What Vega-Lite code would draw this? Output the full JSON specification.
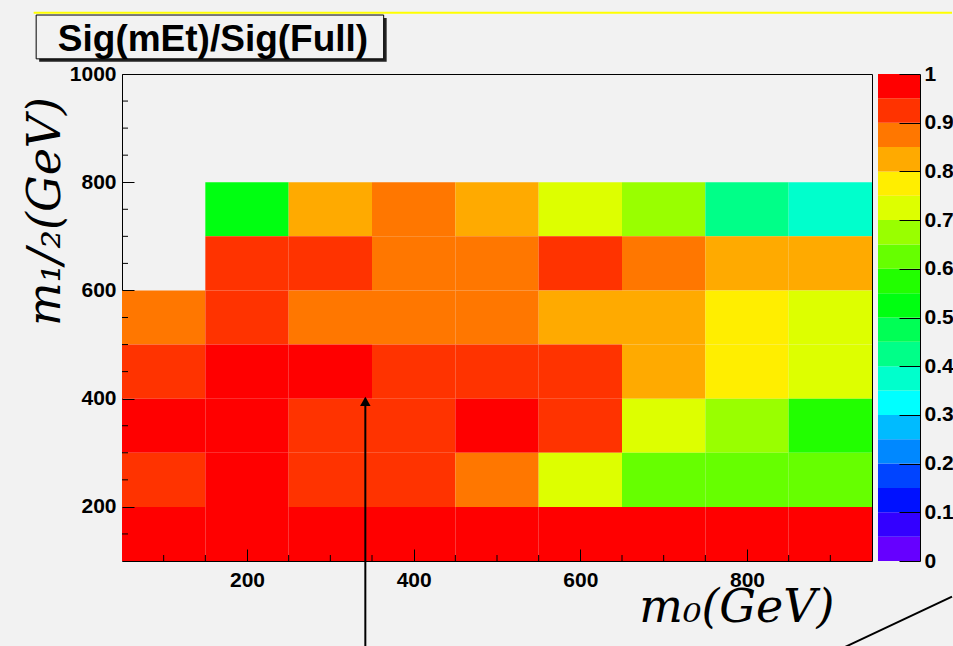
{
  "$schema": "https://vega.github.io/schema/vega-lite/v6.json",
  "autosize": {"type": "pad"},
  "padding": {"left": 21, "top": 11, "right": 0, "bottom": 0},
  "background": "#F2F2F2",
  "spacing": 6,
  "bounds": "flush",
  "config": {
    "view": {"stroke": "black", "strokeWidth": 1, "fill": "#F2F2F2"},
    "axis": {
      "domain": false,
      "grid": false,
      "labelFont": "Liberation Sans",
      "labelFontSize": 21,
      "labelFontWeight": "bold",
      "labelColor": "black",
      "tickColor": "black",
      "tickWidth": 1,
      "zindex": 1
    }
  },
  "datasets": {
    "cells": [
      {"m0_lo": 150, "m0_hi": 250, "m12_lo": 700, "m12_hi": 800, "ratio": 0.52},
      {"m0_lo": 250, "m0_hi": 350, "m12_lo": 700, "m12_hi": 800, "ratio": 0.82},
      {"m0_lo": 350, "m0_hi": 450, "m12_lo": 700, "m12_hi": 800, "ratio": 0.87},
      {"m0_lo": 450, "m0_hi": 550, "m12_lo": 700, "m12_hi": 800, "ratio": 0.82},
      {"m0_lo": 550, "m0_hi": 650, "m12_lo": 700, "m12_hi": 800, "ratio": 0.72},
      {"m0_lo": 650, "m0_hi": 750, "m12_lo": 700, "m12_hi": 800, "ratio": 0.67},
      {"m0_lo": 750, "m0_hi": 850, "m12_lo": 700, "m12_hi": 800, "ratio": 0.42},
      {"m0_lo": 850, "m0_hi": 950, "m12_lo": 700, "m12_hi": 800, "ratio": 0.37},
      {"m0_lo": 150, "m0_hi": 250, "m12_lo": 600, "m12_hi": 700, "ratio": 0.92},
      {"m0_lo": 250, "m0_hi": 350, "m12_lo": 600, "m12_hi": 700, "ratio": 0.92},
      {"m0_lo": 350, "m0_hi": 450, "m12_lo": 600, "m12_hi": 700, "ratio": 0.87},
      {"m0_lo": 450, "m0_hi": 550, "m12_lo": 600, "m12_hi": 700, "ratio": 0.87},
      {"m0_lo": 550, "m0_hi": 650, "m12_lo": 600, "m12_hi": 700, "ratio": 0.92},
      {"m0_lo": 650, "m0_hi": 750, "m12_lo": 600, "m12_hi": 700, "ratio": 0.87},
      {"m0_lo": 750, "m0_hi": 850, "m12_lo": 600, "m12_hi": 700, "ratio": 0.82},
      {"m0_lo": 850, "m0_hi": 950, "m12_lo": 600, "m12_hi": 700, "ratio": 0.82},
      {"m0_lo": 50, "m0_hi": 150, "m12_lo": 500, "m12_hi": 600, "ratio": 0.87},
      {"m0_lo": 150, "m0_hi": 250, "m12_lo": 500, "m12_hi": 600, "ratio": 0.92},
      {"m0_lo": 250, "m0_hi": 350, "m12_lo": 500, "m12_hi": 600, "ratio": 0.87},
      {"m0_lo": 350, "m0_hi": 450, "m12_lo": 500, "m12_hi": 600, "ratio": 0.87},
      {"m0_lo": 450, "m0_hi": 550, "m12_lo": 500, "m12_hi": 600, "ratio": 0.87},
      {"m0_lo": 550, "m0_hi": 650, "m12_lo": 500, "m12_hi": 600, "ratio": 0.82},
      {"m0_lo": 650, "m0_hi": 750, "m12_lo": 500, "m12_hi": 600, "ratio": 0.82},
      {"m0_lo": 750, "m0_hi": 850, "m12_lo": 500, "m12_hi": 600, "ratio": 0.77},
      {"m0_lo": 850, "m0_hi": 950, "m12_lo": 500, "m12_hi": 600, "ratio": 0.72},
      {"m0_lo": 50, "m0_hi": 150, "m12_lo": 400, "m12_hi": 500, "ratio": 0.92},
      {"m0_lo": 150, "m0_hi": 250, "m12_lo": 400, "m12_hi": 500, "ratio": 0.97},
      {"m0_lo": 250, "m0_hi": 350, "m12_lo": 400, "m12_hi": 500, "ratio": 0.97},
      {"m0_lo": 350, "m0_hi": 450, "m12_lo": 400, "m12_hi": 500, "ratio": 0.92},
      {"m0_lo": 450, "m0_hi": 550, "m12_lo": 400, "m12_hi": 500, "ratio": 0.92},
      {"m0_lo": 550, "m0_hi": 650, "m12_lo": 400, "m12_hi": 500, "ratio": 0.92},
      {"m0_lo": 650, "m0_hi": 750, "m12_lo": 400, "m12_hi": 500, "ratio": 0.82},
      {"m0_lo": 750, "m0_hi": 850, "m12_lo": 400, "m12_hi": 500, "ratio": 0.77},
      {"m0_lo": 850, "m0_hi": 950, "m12_lo": 400, "m12_hi": 500, "ratio": 0.72},
      {"m0_lo": 50, "m0_hi": 150, "m12_lo": 300, "m12_hi": 400, "ratio": 0.97},
      {"m0_lo": 150, "m0_hi": 250, "m12_lo": 300, "m12_hi": 400, "ratio": 0.97},
      {"m0_lo": 250, "m0_hi": 350, "m12_lo": 300, "m12_hi": 400, "ratio": 0.92},
      {"m0_lo": 350, "m0_hi": 450, "m12_lo": 300, "m12_hi": 400, "ratio": 0.92},
      {"m0_lo": 450, "m0_hi": 550, "m12_lo": 300, "m12_hi": 400, "ratio": 0.97},
      {"m0_lo": 550, "m0_hi": 650, "m12_lo": 300, "m12_hi": 400, "ratio": 0.92},
      {"m0_lo": 650, "m0_hi": 750, "m12_lo": 300, "m12_hi": 400, "ratio": 0.72},
      {"m0_lo": 750, "m0_hi": 850, "m12_lo": 300, "m12_hi": 400, "ratio": 0.67},
      {"m0_lo": 850, "m0_hi": 950, "m12_lo": 300, "m12_hi": 400, "ratio": 0.57},
      {"m0_lo": 50, "m0_hi": 150, "m12_lo": 200, "m12_hi": 300, "ratio": 0.92},
      {"m0_lo": 150, "m0_hi": 250, "m12_lo": 200, "m12_hi": 300, "ratio": 0.97},
      {"m0_lo": 250, "m0_hi": 350, "m12_lo": 200, "m12_hi": 300, "ratio": 0.92},
      {"m0_lo": 350, "m0_hi": 450, "m12_lo": 200, "m12_hi": 300, "ratio": 0.92},
      {"m0_lo": 450, "m0_hi": 550, "m12_lo": 200, "m12_hi": 300, "ratio": 0.87},
      {"m0_lo": 550, "m0_hi": 650, "m12_lo": 200, "m12_hi": 300, "ratio": 0.72},
      {"m0_lo": 650, "m0_hi": 750, "m12_lo": 200, "m12_hi": 300, "ratio": 0.62},
      {"m0_lo": 750, "m0_hi": 850, "m12_lo": 200, "m12_hi": 300, "ratio": 0.62},
      {"m0_lo": 850, "m0_hi": 950, "m12_lo": 200, "m12_hi": 300, "ratio": 0.62},
      {"m0_lo": 50, "m0_hi": 150, "m12_lo": 100, "m12_hi": 200, "ratio": 0.97},
      {"m0_lo": 150, "m0_hi": 250, "m12_lo": 100, "m12_hi": 200, "ratio": 0.97},
      {"m0_lo": 250, "m0_hi": 350, "m12_lo": 100, "m12_hi": 200, "ratio": 0.97},
      {"m0_lo": 350, "m0_hi": 450, "m12_lo": 100, "m12_hi": 200, "ratio": 0.97},
      {"m0_lo": 450, "m0_hi": 550, "m12_lo": 100, "m12_hi": 200, "ratio": 0.97},
      {"m0_lo": 550, "m0_hi": 650, "m12_lo": 100, "m12_hi": 200, "ratio": 0.97},
      {"m0_lo": 650, "m0_hi": 750, "m12_lo": 100, "m12_hi": 200, "ratio": 0.97},
      {"m0_lo": 750, "m0_hi": 850, "m12_lo": 100, "m12_hi": 200, "ratio": 0.97},
      {"m0_lo": 850, "m0_hi": 950, "m12_lo": 100, "m12_hi": 200, "ratio": 0.97}
    ],
    "xminor": [
      {"m0": 100}, {"m0": 150}, {"m0": 250}, {"m0": 300}, {"m0": 350}, {"m0": 450}, {"m0": 500},
      {"m0": 550}, {"m0": 650}, {"m0": 700}, {"m0": 750}, {"m0": 850}, {"m0": 900}
    ],
    "yminor": [
      {"m12": 150}, {"m12": 250}, {"m12": 300}, {"m12": 350}, {"m12": 450}, {"m12": 500}, {"m12": 550},
      {"m12": 650}, {"m12": 700}, {"m12": 750}, {"m12": 850}, {"m12": 900}, {"m12": 950}
    ],
    "bands": [
      {"lo": 0.00, "hi": 0.05, "mid": 0.025},
      {"lo": 0.05, "hi": 0.10, "mid": 0.075},
      {"lo": 0.10, "hi": 0.15, "mid": 0.125},
      {"lo": 0.15, "hi": 0.20, "mid": 0.175},
      {"lo": 0.20, "hi": 0.25, "mid": 0.225},
      {"lo": 0.25, "hi": 0.30, "mid": 0.275},
      {"lo": 0.30, "hi": 0.35, "mid": 0.325},
      {"lo": 0.35, "hi": 0.40, "mid": 0.375},
      {"lo": 0.40, "hi": 0.45, "mid": 0.425},
      {"lo": 0.45, "hi": 0.50, "mid": 0.475},
      {"lo": 0.50, "hi": 0.55, "mid": 0.525},
      {"lo": 0.55, "hi": 0.60, "mid": 0.575},
      {"lo": 0.60, "hi": 0.65, "mid": 0.625},
      {"lo": 0.65, "hi": 0.70, "mid": 0.675},
      {"lo": 0.70, "hi": 0.75, "mid": 0.725},
      {"lo": 0.75, "hi": 0.80, "mid": 0.775},
      {"lo": 0.80, "hi": 0.85, "mid": 0.825},
      {"lo": 0.85, "hi": 0.90, "mid": 0.875},
      {"lo": 0.90, "hi": 0.95, "mid": 0.925},
      {"lo": 0.95, "hi": 1.00, "mid": 0.975}
    ],
    "titlebox": [
      {"x_a": -53, "x_b": 364, "y_a": 1028, "y_b": 1109}
    ],
    "topline": [
      {"x_a": -56, "x_b": 1046, "y": 1113}
    ],
    "arrow": [
      {"m0": 342, "m12_from": -60, "m12_to": 400}
    ],
    "arrowhead": [
      {"m0": 342, "m12": 395}
    ],
    "line": [
      {"m0_a": 916, "m12_a": -60, "m0_b": 1046, "m12_b": 34}
    ]
  },
  "hconcat": [
    {
      "width": 750,
      "height": 487,
      "layer": [
        {
          "data": {"name": "titlebox"},
          "mark": {"type": "rect", "fill": "#222222", "xOffset": 3, "x2Offset": 3, "yOffset": 3, "y2Offset": 3},
          "encoding": {
            "x": {"field": "x_a", "type": "quantitative"},
            "x2": {"field": "x_b"},
            "y": {"field": "y_a", "type": "quantitative"},
            "y2": {"field": "y_b"}
          }
        },
        {
          "data": {"name": "titlebox"},
          "mark": {"type": "rect", "fill": "#F2F2F2", "stroke": "black", "strokeWidth": 1},
          "encoding": {
            "x": {"field": "x_a", "type": "quantitative"},
            "x2": {"field": "x_b"},
            "y": {"field": "y_a", "type": "quantitative"},
            "y2": {"field": "y_b"}
          }
        },
        {
          "data": {"name": "titlebox"},
          "mark": {"type": "text", "text": "Sig(mEt)/Sig(Full)", "align": "left", "baseline": "alphabetic", "font": "Liberation Sans", "fontSize": 37, "fontWeight": "bold", "color": "black"},
          "encoding": {
            "x": {"datum": -27, "type": "quantitative"},
            "y": {"datum": 1042, "type": "quantitative"}
          }
        },
        {
          "data": {"name": "topline"},
          "mark": {"type": "rule", "color": "#FFFF00", "strokeWidth": 2},
          "encoding": {
            "x": {"field": "x_a", "type": "quantitative"},
            "x2": {"field": "x_b"},
            "y": {"field": "y", "type": "quantitative"}
          }
        },
        {
          "data": {"name": "cells"},
          "mark": {"type": "rect", "stroke": null},
          "encoding": {
            "x": {
              "field": "m0_lo",
              "type": "quantitative",
              "scale": {"domain": [50, 950], "nice": false, "zero": false},
              "axis": {
                "title": "m₀(GeV)",
                "values": [200, 400, 600, 800],
                "format": "d",
                "tickSize": -12,
                "labelPadding": 20,
                "zindex": 1,
                "titleFont": "DejaVu Serif",
                "titleFontStyle": "italic",
                "titleFontWeight": "normal",
                "titleFontSize": 46,
                "titleColor": "black",
                "titleAnchor": "end",
                "titleAlign": "right",
                "titleX": 712,
                "titleY": 60,
                "titleBaseline": "alphabetic"
              }
            },
            "x2": {"field": "m0_hi"},
            "y": {
              "field": "m12_lo",
              "type": "quantitative",
              "scale": {"domain": [100, 1000], "nice": false, "zero": false},
              "axis": {
                "title": "m₁/₂(GeV)",
                "values": [200, 400, 600, 800, 1000],
                "format": "d",
                "tickSize": -12,
                "labelPadding": 18,
                "zindex": 1,
                "titleFont": "DejaVu Serif",
                "titleFontStyle": "italic",
                "titleFontWeight": "normal",
                "titleFontSize": 46,
                "titleColor": "black",
                "titleAngle": -90,
                "titleX": -63,
                "titleY": 137,
                "titleAlign": "center",
                "titleBaseline": "alphabetic"
              }
            },
            "y2": {"field": "m12_hi"},
            "color": {
              "field": "ratio",
              "type": "quantitative",
              "scale": {
                "type": "quantize",
                "domain": [0, 1],
                "nice": false,
                "zero": false,
                "range": ["#6600FF", "#3300FF", "#0011FF", "#0044FF", "#0088FF", "#00BBFF", "#00FFFF", "#00FFCC", "#00FF88", "#00FF55", "#00FF11", "#22FF00", "#66FF00", "#99FF00", "#DDFF00", "#FFEE00", "#FFAA00", "#FF7700", "#FF3300", "#FF0000"]
              },
              "legend": null
            }
          }
        },
        {
          "data": {"name": "xminor"},
          "mark": {"type": "tick", "orient": "vertical", "size": 6, "thickness": 1, "color": "black", "opacity": 1, "yOffset": -3},
          "encoding": {
            "x": {"field": "m0", "type": "quantitative"},
            "y": {"datum": 100, "type": "quantitative"}
          }
        },
        {
          "data": {"name": "yminor"},
          "mark": {"type": "tick", "orient": "horizontal", "size": 6, "thickness": 1, "color": "black", "opacity": 1, "xOffset": 3},
          "encoding": {
            "y": {"field": "m12", "type": "quantitative"},
            "x": {"datum": 50, "type": "quantitative"}
          }
        },
        {
          "data": {"name": "arrow"},
          "mark": {"type": "rule", "color": "black", "strokeWidth": 2},
          "encoding": {
            "x": {"field": "m0", "type": "quantitative"},
            "y": {"field": "m12_from", "type": "quantitative"},
            "y2": {"field": "m12_to"}
          }
        },
        {
          "data": {"name": "arrowhead"},
          "mark": {"type": "point", "shape": "triangle-up", "filled": true, "color": "black", "size": 110, "opacity": 1},
          "encoding": {
            "x": {"field": "m0", "type": "quantitative"},
            "y": {"field": "m12", "type": "quantitative"}
          }
        },
        {
          "data": {"name": "line"},
          "mark": {"type": "rule", "color": "black", "strokeWidth": 2},
          "encoding": {
            "x": {"field": "m0_a", "type": "quantitative"},
            "y": {"field": "m12_a", "type": "quantitative"},
            "x2": {"field": "m0_b"},
            "y2": {"field": "m12_b"}
          }
        }
      ]
    },
    {
      "width": 42,
      "height": 487,
      "view": {"stroke": null},
      "data": {"name": "bands"},
      "mark": {"type": "rect", "stroke": null},
      "encoding": {
        "y": {
          "field": "lo",
          "type": "quantitative",
          "scale": {"domain": [0, 1], "nice": false, "zero": false},
          "axis": {
            "orient": "right",
            "title": null,
            "values": [0, 0.1, 0.2, 0.3, 0.4, 0.5, 0.6, 0.7, 0.8, 0.9, 1],
            "format": "~g",
            "domain": true,
            "domainColor": "black",
            "domainWidth": 1,
            "tickSize": -21,
            "labelPadding": 25,
            "zindex": 1
          }
        },
        "y2": {"field": "hi"},
        "color": {
          "field": "mid",
          "type": "quantitative",
          "scale": {
            "type": "quantize",
            "domain": [0, 1],
            "nice": false,
            "zero": false,
            "range": ["#6600FF", "#3300FF", "#0011FF", "#0044FF", "#0088FF", "#00BBFF", "#00FFFF", "#00FFCC", "#00FF88", "#00FF55", "#00FF11", "#22FF00", "#66FF00", "#99FF00", "#DDFF00", "#FFEE00", "#FFAA00", "#FF7700", "#FF3300", "#FF0000"]
          },
          "legend": null
        }
      }
    }
  ]
}
